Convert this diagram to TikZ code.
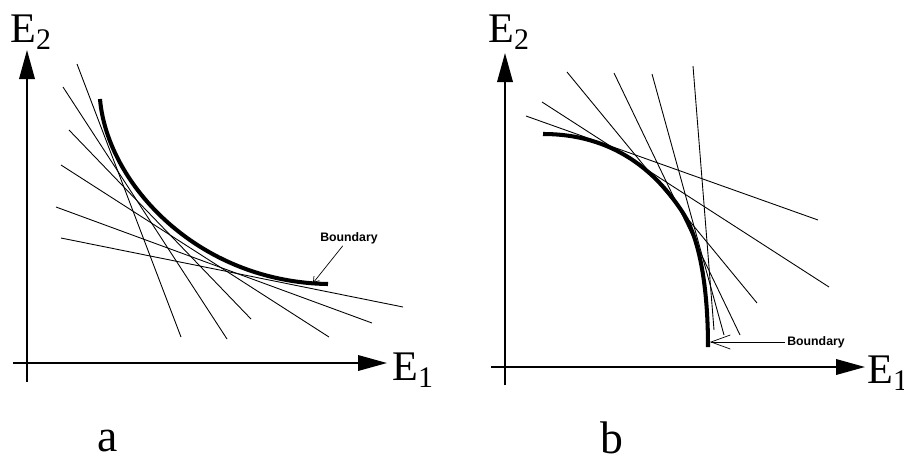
\documentclass[tikz,border=0pt]{standalone}
\usepackage{fontspec}
\setmainfont{Liberation Serif}
\newfontfamily\notefont{Liberation Sans}
\usetikzlibrary{arrows.meta}
\newcommand{\axlabel}[1]{E\raisebox{-4.5pt}{\fontsize{17}{17}\selectfont #1}}

\begin{document}
\begin{tikzpicture}[
	axis/.style={line width=1.1pt, -{Triangle[length=0.58cm, width=0.31cm]}},
	bound/.style={line width=2.3pt},
	tang/.style={line width=0.5pt},
	note/.style={font=\notefont\bfseries\fontsize{7}{8}\selectfont, inner sep=1pt},
	pointer/.style={line width=0.4pt, -{Straight Barb[#1]}},
	axlab/.style={font=\fontsize{24}{28}\selectfont, anchor=base west, inner sep=0pt},
	panel/.style={font=\fontsize{26}{30}\selectfont, anchor=base, inner sep=0pt}]
	\useasboundingbox (-0.54,-1.88) rectangle (17.54,7.26);
	% panel a: convex boundary
	\begin{scope}
	\draw[axis] (-0.28,0) -- (7.2,0);
	\draw[axis] (0,-0.38) -- (0,6.26);
	\node[axlab] (e1a) at (7.30,-0.34) {\axlabel{1}};
	\node[axlab] (e2a) at (-0.34,6.42) {\axlabel{2}};
	\foreach \xa/\ya/\xb/\yb in {1.00/5.98/3.08/0.52, 0.72/5.52/4.00/0.48, 0.84/4.66/4.48/0.88,
		0.68/3.96/6.04/0.52, 0.58/3.12/6.90/0.80, 0.68/2.50/7.52/1.12} {
		\draw[tang] (\xa,\ya) -- (\xb,\yb);
	}
	\draw[bound] (1.46,5.28) .. controls (1.60,3.60) and (3.40,1.62) .. (6.02,1.58);
	\coordinate (enda) at (5.72,1.60);
	\node[note] (bda) at (6.44,2.50) {Boundary};
	\draw[pointer={length=3pt, width=4pt}] (bda) -- (enda);
	\node[panel] (la) at (1.61,-1.77) {a};
	\end{scope}
	% panel b: concave boundary
	\begin{scope}[xshift=9.56cm, yshift=-0.08cm]
	\draw[axis] (-0.28,0) -- (7.2,0);
	\draw[axis] (0,-0.36) -- (0,6.28);
	\node[axlab] (e1b) at (7.24,-0.32) {\axlabel{1}};
	\node[axlab] (e2b) at (-0.34,6.50) {\axlabel{2}};
	\foreach \xa/\ya/\xb/\yb in {0.42/5.02/6.26/2.94, 0.74/5.30/6.48/1.60, 1.24/5.90/5.04/1.28,
		2.18/5.88/4.70/0.64, 2.94/5.86/4.38/0.64, 3.76/6.02/4.18/0.74} {
		\draw[tang] (\xa,\ya) -- (\xb,\yb);
	}
	\draw[bound] (0.76,4.66) .. controls (2.16,4.66) and (3.02,3.92) .. (3.56,3.08)
		.. controls (3.94,2.49) and (4.06,1.40) .. (4.06,0.40);
	\coordinate (endb) at (4.10,0.50);
	\node[note] (bdb) at (6.22,0.50) {Boundary};
	\draw[pointer={length=11pt, width=8pt}] (bdb) -- (endb);
	\node[panel] (lb) at (2.13,-1.73) {b};
	\end{scope}
\end{tikzpicture}
\end{document}
